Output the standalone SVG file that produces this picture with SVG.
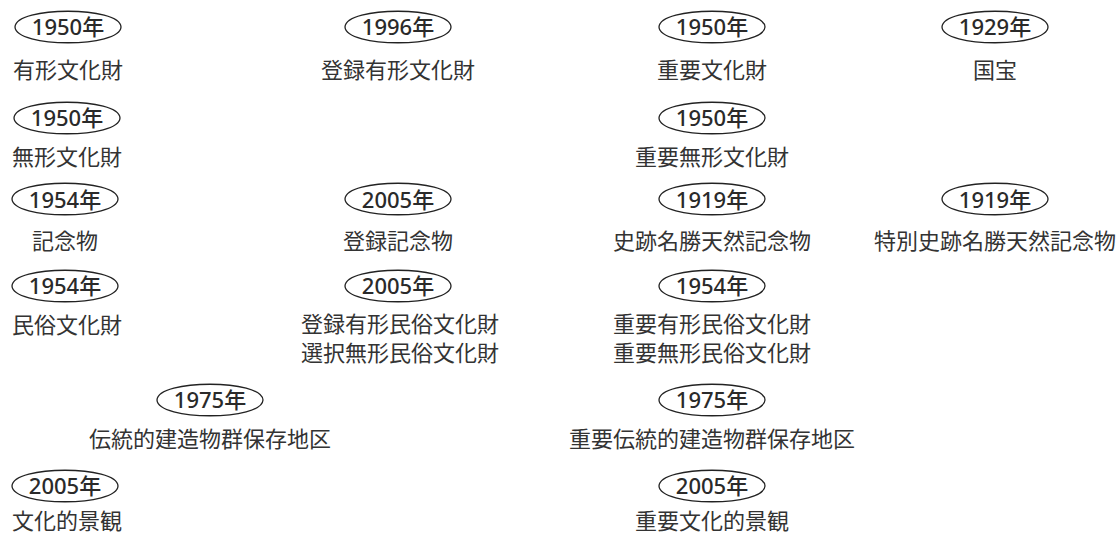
<svg xmlns="http://www.w3.org/2000/svg" xmlns:xlink="http://www.w3.org/1999/xlink" width="1119" height="534" viewBox="0 0 1119 534">
<style>
text{font-family:"Noto Sans CJK JP","Noto Sans",sans-serif;font-size:22px;fill:#333;text-anchor:middle;dominant-baseline:central}
text.y{font-family:"Noto Sans","Noto Sans CJK JP",sans-serif;font-size:22px;font-weight:500;fill:#2a2a2a}
.b{fill:none;stroke:#222;stroke-width:1.3}
</style>
<defs>
<path id="badge" class="b" d="M-53,0 C-52,-21 52,-21 53,0 C52,21 -52,21 -53,0 Z"/>
</defs>
<rect width="1119" height="534" fill="#fff"/>
<g id="n1"><use xlink:href="#badge" x="68" y="27"/><text class="y" x="68" y="26">1950年</text><text x="68" y="68">有形文化財</text></g>
<g id="n2"><use xlink:href="#badge" x="398" y="27"/><text class="y" x="398" y="26">1996年</text><text x="398" y="68">登録有形文化財</text></g>
<g id="n3"><use xlink:href="#badge" x="712" y="27"/><text class="y" x="712" y="26">1950年</text><text x="712" y="68">重要文化財</text></g>
<g id="n4"><use xlink:href="#badge" x="995" y="27"/><text class="y" x="995" y="26">1929年</text><text x="995" y="68">国宝</text></g>
<g id="n5"><use xlink:href="#badge" x="67" y="118"/><text class="y" x="67" y="117">1950年</text><text x="67" y="155">無形文化財</text></g>
<g id="n6"><use xlink:href="#badge" x="712" y="118"/><text class="y" x="712" y="117">1950年</text><text x="712" y="155">重要無形文化財</text></g>
<g id="n7"><use xlink:href="#badge" x="65" y="199"/><text class="y" x="65" y="199">1954年</text><text x="65" y="239">記念物</text></g>
<g id="n8"><use xlink:href="#badge" x="398" y="199"/><text class="y" x="398" y="199">2005年</text><text x="398" y="239">登録記念物</text></g>
<g id="n9"><use xlink:href="#badge" x="712" y="199"/><text class="y" x="712" y="199">1919年</text><text x="712" y="239">史跡名勝天然記念物</text></g>
<g id="n10"><use xlink:href="#badge" x="995" y="199"/><text class="y" x="995" y="199">1919年</text><text x="995" y="239">特別史跡名勝天然記念物</text></g>
<g id="n11"><use xlink:href="#badge" x="65" y="286"/><text class="y" x="65" y="285">1954年</text><text x="67" y="323">民俗文化財</text></g>
<g id="n12"><use xlink:href="#badge" x="398" y="286"/><text class="y" x="398" y="285">2005年</text><text x="400" y="322">登録有形民俗文化財</text><text x="400" y="351">選択無形民俗文化財</text></g>
<g id="n13"><use xlink:href="#badge" x="712" y="286"/><text class="y" x="712" y="285">1954年</text><text x="712" y="322">重要有形民俗文化財</text><text x="712" y="351">重要無形民俗文化財</text></g>
<g id="n14"><use xlink:href="#badge" x="210" y="400"/><text class="y" x="210" y="399">1975年</text><text x="210" y="437">伝統的建造物群保存地区</text></g>
<g id="n15"><use xlink:href="#badge" x="712" y="400"/><text class="y" x="712" y="399">1975年</text><text x="712" y="437">重要伝統的建造物群保存地区</text></g>
<g id="n16"><use xlink:href="#badge" x="65" y="486"/><text class="y" x="65" y="485">2005年</text><text x="67" y="519">文化的景観</text></g>
<g id="n17"><use xlink:href="#badge" x="712" y="486"/><text class="y" x="712" y="485">2005年</text><text x="712" y="519">重要文化的景観</text></g>
<g id="connectors"></g>
</svg>
